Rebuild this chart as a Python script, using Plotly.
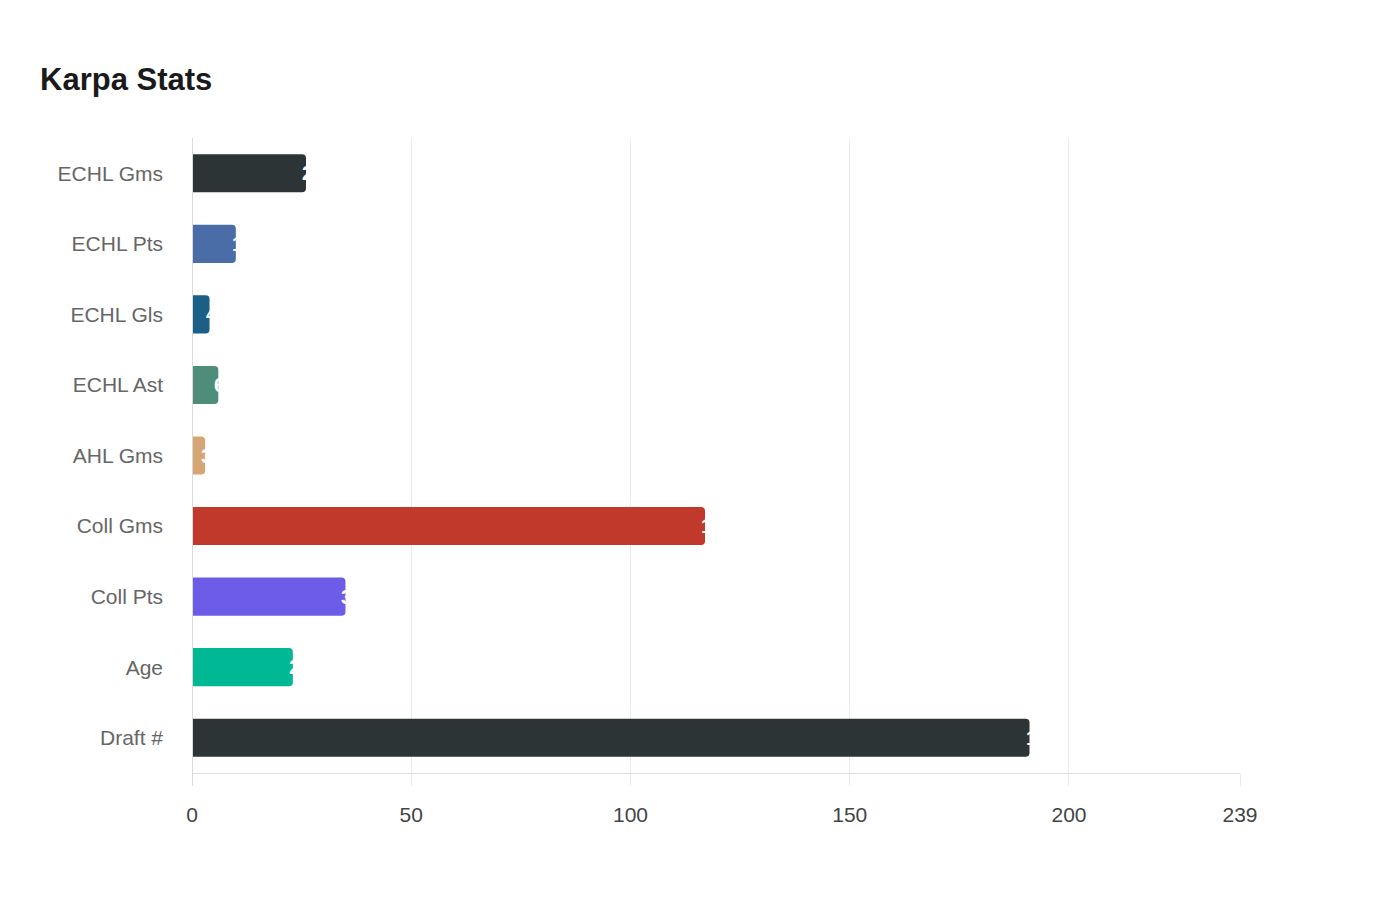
import plotly.graph_objects as go

# stats shown top to bottom
categories = ["ECHL Gms", "ECHL Pts", "ECHL Gls", "ECHL Ast", "AHL Gms",
              "Coll Gms", "Coll Pts", "Age", "Draft #"]
values = [26, 10, 4, 6, 3, 117, 35, 23, 191]
colors = ["#2d3436", "#4a6da7", "#1b5e86", "#4f8d7b", "#d6a574",
          "#c0392b", "#6c5ce7", "#00b894", "#2d3436"]
tick_vals = [0, 50, 100, 150, 200, 239]

fig = go.Figure()
fig.add_trace(go.Bar(
    x=values, y=categories, orientation="h",
    marker=dict(color=colors, line=dict(width=0)),
    hoverinfo="x+y",
))

# white value labels sitting at the bar end (mostly hidden on the white bg)
for c, v in zip(categories, values):
    fig.add_annotation(x=v, y=c, text="<b>%d</b>" % v, showarrow=False,
                       xanchor="left", xshift=-6,
                       font=dict(family="Liberation Sans, Arial", size=20,
                                 color="white"))

fig.update_layout(
    width=1400, height=900,
    title=dict(text="<b>Karpa Stats</b>", x=32 / 1400, xanchor="left",
               y=1 - 71 / 900, yanchor="middle",
               font=dict(family="Liberation Sans, Arial", size=31,
                         color="#1a1a1a")),
    margin=dict(l=184, r=168, t=130, b=135),
    paper_bgcolor="white", plot_bgcolor="white",
    bargap=0.46, barcornerradius=4,
    showlegend=False,
    font=dict(family="Liberation Sans, Arial", size=21, color="#666"),
)
fig.update_xaxes(
    range=[0, 239], tickvals=tick_vals, ticktext=[str(t) for t in tick_vals],
    showgrid=True, gridcolor="#ebebeb", gridwidth=1,
    zeroline=False,
    showline=True, linecolor="#e0e0e0", linewidth=1,
    ticks="outside", ticklen=12, tickcolor="#ebebeb",
    ticklabelstandoff=11,
    tickfont=dict(size=21, color="#444"),
)
fig.update_yaxes(
    categoryorder="array", categoryarray=categories[::-1],
    showgrid=False, zeroline=False,
    showline=False,
    ticks="", ticklabelstandoff=28,
    tickfont=dict(size=21, color="#666"),
)
# left axis line running a bit below the plot like the reference
fig.add_shape(type="line", xref="x", yref="paper", x0=0, x1=0, y0=-0.02, y1=1,
              line=dict(color="#d9d9d9", width=2))

fig.write_html("out.html")
